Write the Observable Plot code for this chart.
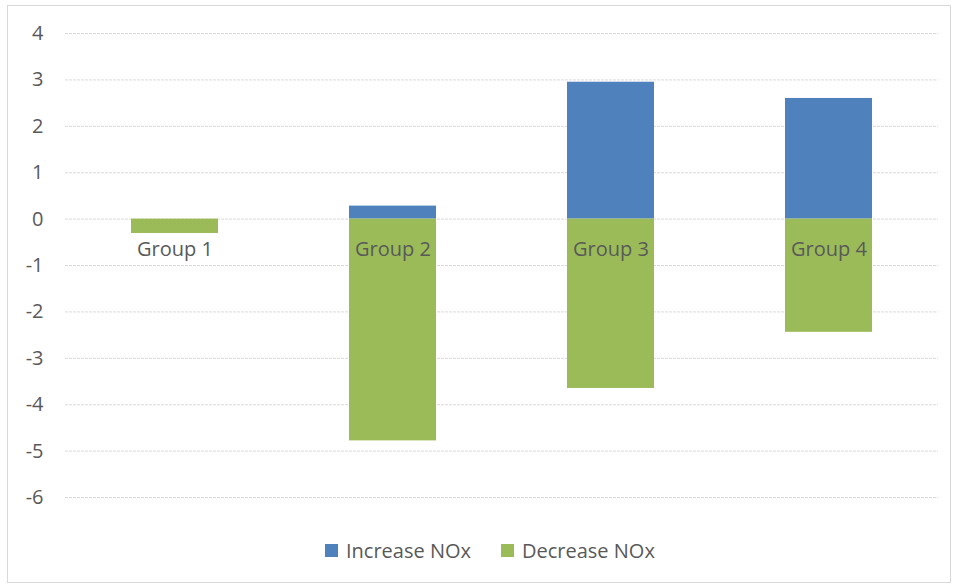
<!DOCTYPE html>
<html>
<head>
<meta charset="utf-8">
<script src="https://cdn.jsdelivr.net/npm/d3@7"></script>
<script src="https://cdn.jsdelivr.net/npm/@observablehq/plot@0.6"></script>
<style>
  html, body { margin: 0; padding: 0; background: #fff; overflow: hidden; }
  #wrap { position: relative; width: 954px; height: 586px; font-family: "Open Sans", sans-serif; }
  #frame { position: absolute; left: 7px; top: 5px; width: 944px; height: 578px; border: 1px solid #d9d9d9; box-sizing: border-box; pointer-events: none; }
  #chart { position: absolute; left: 0; top: 0; }
  #legend { position: absolute; left: 325px; top: 536px; height: 28px; display: flex; align-items: center; font-size: 20px; color: #595959; }
  .item { display: flex; align-items: center; }
  .swatch { width: 13px; height: 13px; margin-right: 8px; }
</style>
</head>
<body>
<div id="wrap">
  <div id="frame"></div>
  <div id="chart"></div>
  <div id="legend"></div>
</div>
<script>
// NOx change by group: positive part stacks up, negative part stacks down
const groups = ["Group 1", "Group 2", "Group 3", "Group 4"];
const increaseNOx = [0, 0.28, 2.95, 2.6];
const decreaseNOx = [-0.31, -4.78, -3.65, -2.44];
const seriesNames = ["Increase NOx", "Decrease NOx"];
const seriesColors = ["#4f81bd", "#9bbb59"];
const yTicks = [4, 3, 2, 1, 0, -1, -2, -3, -4, -5, -6];

const rows = [];
groups.forEach((g, i) => {
  rows.push({group: g, series: seriesNames[0], value: increaseNOx[i]});
  rows.push({group: g, series: seriesNames[1], value: decreaseNOx[i]});
});

const chart = Plot.plot({
  width: 954,
  height: 520,
  marginLeft: 65,
  marginRight: 16,
  marginTop: 33,
  marginBottom: 23,
  style: {fontFamily: "Open Sans, sans-serif", fontSize: "20px", color: "#595959", background: "transparent"},
  x: {domain: groups, paddingInner: 0.6, paddingOuter: 0.3, axis: null},
  y: {domain: [-6, 4], axis: null},
  color: {domain: seriesNames, range: seriesColors},
  marks: [
    Plot.ruleY(yTicks, {stroke: "#d9d9d9", strokeWidth: 1, strokeDasharray: "3,1"}),
    Plot.barY(rows, {x: "group", y: "value", fill: "series"}),
    Plot.text(groups, {x: d => d, y: () => 0, text: d => d, dy: 30, fill: "#595959", fontSize: 20}),
    Plot.axisY({ticks: yTicks, tickSize: 0, tickPadding: 22, tickFormat: d => String(d), fontSize: 20, fill: "#595959", label: null})
  ]
});
document.getElementById("chart").appendChild(chart);

const legend = document.getElementById("legend");
seriesNames.forEach((name, i) => {
  const item = document.createElement("div");
  item.className = "item";
  if (i > 0) item.style.marginLeft = "30px";
  const sw = document.createElement("div");
  sw.className = "swatch";
  sw.style.background = seriesColors[i];
  const label = document.createElement("span");
  label.textContent = name;
  item.appendChild(sw);
  item.appendChild(label);
  legend.appendChild(item);
});
</script>
</body>
</html>
